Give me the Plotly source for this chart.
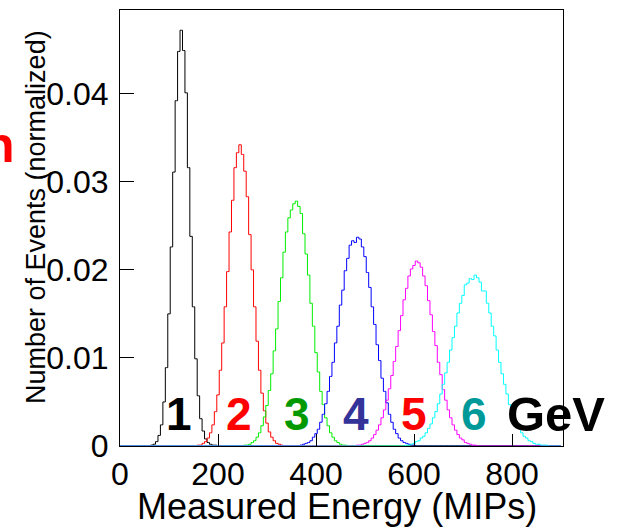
import numpy as np
import plotly.graph_objects as go

# ---------------- data ----------------
bin_width = 5
x_max = 900

e1_start = 65
e1_vals = [0.0001, 0.0002, 0.0005, 0.0012, 0.0024, 0.0050, 0.0089, 0.0150, 0.0226, 0.0311,
           0.0392, 0.0448, 0.0472, 0.0449, 0.0401, 0.0316, 0.0238, 0.0158, 0.0099, 0.0057,
           0.0031, 0.0017, 0.0008, 0.0004, 0.0002, 0.0001, 0.0001]

e2_start = 160
e2_vals = [0.0001, 0.0001, 0.0003, 0.0005, 0.0009, 0.0015, 0.0024, 0.0039, 0.0058, 0.0086,
           0.0117, 0.0158, 0.0198, 0.0243, 0.0279, 0.0316, 0.0333, 0.0342, 0.0331, 0.0312,
           0.0283, 0.0240, 0.0200, 0.0158, 0.0119, 0.0086, 0.0060, 0.0040, 0.0026, 0.0016,
           0.0010, 0.0006, 0.0003, 0.0002, 0.0001]

e3_start = 255
e3_vals = [0.0001, 0.0001, 0.0002, 0.0004, 0.0006, 0.0010, 0.0015, 0.0023, 0.0033, 0.0046,
           0.0063, 0.0082, 0.0108, 0.0133, 0.0164, 0.0191, 0.0220, 0.0243, 0.0259, 0.0268,
           0.0275, 0.0278, 0.0272, 0.0264, 0.0241, 0.0218, 0.0194, 0.0162, 0.0136, 0.0106,
           0.0084, 0.0062, 0.0047, 0.0032, 0.0023, 0.0015, 0.0010, 0.0006, 0.0004, 0.0002,
           0.0001, 0.0001]

e4_start = 370
e4_vals = [0.0001, 0.0002, 0.0003, 0.0004, 0.0006, 0.0010, 0.0014, 0.0019, 0.0027, 0.0036,
           0.0048, 0.0062, 0.0079, 0.0095, 0.0117, 0.0136, 0.0160, 0.0177, 0.0199, 0.0213,
           0.0228, 0.0233, 0.0231, 0.0237, 0.0235, 0.0226, 0.0215, 0.0197, 0.0180, 0.0158,
           0.0138, 0.0115, 0.0097, 0.0077, 0.0062, 0.0049, 0.0036, 0.0027, 0.0019, 0.0014,
           0.0009, 0.0006, 0.0004, 0.0003, 0.0002, 0.0001, 0.0001]

e5_start = 485
e5_vals = [0.0001, 0.0001, 0.0002, 0.0003, 0.0004, 0.0006, 0.0009, 0.0013, 0.0018, 0.0024,
           0.0032, 0.0041, 0.0052, 0.0065, 0.0080, 0.0096, 0.0113, 0.0131, 0.0148, 0.0166,
           0.0179, 0.0193, 0.0201, 0.0205, 0.0210, 0.0208, 0.0203, 0.0193, 0.0182, 0.0165,
           0.0149, 0.0130, 0.0114, 0.0095, 0.0081, 0.0064, 0.0052, 0.0041, 0.0032, 0.0024,
           0.0018, 0.0013, 0.0009, 0.0007, 0.0004, 0.0003, 0.0002, 0.0001, 0.0001]

e6_start = 585
e6_vals = [0.0001, 0.0001, 0.0002, 0.0003, 0.0005, 0.0006, 0.0009, 0.0011, 0.0015, 0.0020,
           0.0025, 0.0032, 0.0039, 0.0048, 0.0059, 0.0070, 0.0083, 0.0095, 0.0109, 0.0123,
           0.0136, 0.0151, 0.0162, 0.0171, 0.0183, 0.0185, 0.0190, 0.0189, 0.0194, 0.0191,
           0.0186, 0.0176, 0.0176, 0.0162, 0.0151, 0.0136, 0.0125, 0.0109, 0.0095, 0.0082,
           0.0070, 0.0059, 0.0047, 0.0039, 0.0032, 0.0025, 0.0020, 0.0015, 0.0011, 0.0009,
           0.0006, 0.0005, 0.0003, 0.0002, 0.0002, 0.0001, 0.0001, 0.0001]

energies = ["1", "2", "3", "4", "5", "6"]
line_colors = ["#000000", "#ff0000", "#00ee00", "#0000ff", "#ff00ff", "#00ffff"]
label_colors = ["#000000", "#ff0000", "#009900", "#333399", "#ff0000", "#009999"]
label_x = [120, 243, 361, 482, 600, 722]
gev_x = 890
label_y = 0.0036

y_ticks = [0, 0.01, 0.02, 0.03, 0.04]
y_tick_text = ["0", "0.01", "0.02", "0.03", "0.04"]
x_ticks = [0, 200, 400, 600, 800]
x_tick_text = ["0", "200", "400", "600", "800"]

series = [(e1_start, e1_vals), (e2_start, e2_vals), (e3_start, e3_vals),
          (e4_start, e4_vals), (e5_start, e5_vals), (e6_start, e6_vals)]

# ---------------- figure ----------------
W, H = 628, 528
ML, MR, MT, MB = 120, 65, 10, 82
PW, PH = W - ML - MR, H - MT - MB

def px_to_paper_x(px):
    return (px - ML) / PW

def px_to_paper_y(py):
    return (H - MB - py) / PH

FONT = "Liberation Sans, Arial, sans-serif"

fig = go.Figure()
bin_centers = np.arange(0, x_max + bin_width, bin_width)
for (start, vals), col in zip(series, line_colors):
    y = np.zeros(len(bin_centers))
    i0 = int(round(start / bin_width))
    y[i0:i0 + len(vals)] = vals
    fig.add_trace(go.Scatter(x=bin_centers, y=y, mode="lines",
                             line=dict(color=col, width=1, shape="hvh"),
                             showlegend=False, hoverinfo="skip"))

ann = []
for txt, col, lx in zip(energies, label_colors, label_x):
    ann.append(dict(x=lx, y=label_y, xref="x", yref="y", text="<b>%s</b>" % txt,
                    showarrow=False, xanchor="center", yanchor="middle",
                    font=dict(family=FONT, size=46, color=col)))
ann.append(dict(x=gev_x, y=label_y, xref="x", yref="y", text="<b>GeV</b>",
                showarrow=False, xanchor="center", yanchor="middle",
                font=dict(family=FONT, size=49, color="#000000")))
# axis titles
ann.append(dict(x=px_to_paper_x(337), y=px_to_paper_y(506), xref="paper", yref="paper",
                text="Measured Energy (MIPs)", showarrow=False,
                xanchor="center", yanchor="middle",
                font=dict(family=FONT, size=36, color="#000000")))
ann.append(dict(x=px_to_paper_x(36), y=px_to_paper_y(217), xref="paper", yref="paper",
                text="Number of Events (normalized)", showarrow=False, textangle=-90,
                xanchor="center", yanchor="middle",
                font=dict(family=FONT, size=27, color="#000000")))
# cropped red text fragment at the left edge
ann.append(dict(x=px_to_paper_x(17), y=px_to_paper_y(145), xref="paper", yref="paper",
                text="<b>n</b>", showarrow=False, xanchor="right", yanchor="middle",
                font=dict(family=FONT, size=50, color="#ff0000")))

fig.update_layout(
    width=W, height=H, autosize=False,
    margin=dict(l=ML, r=MR, t=MT, b=MB, pad=0),
    paper_bgcolor="white", plot_bgcolor="white",
    annotations=ann,
    xaxis=dict(range=[0, 904], tickvals=x_ticks, ticktext=x_tick_text,
               ticks="inside", ticklen=12, tickwidth=1, tickcolor="black",
               showline=True, linecolor="black", linewidth=1, mirror=True,
               showgrid=False, zeroline=False,
               tickfont=dict(family=FONT, size=32, color="black"),
               ticklabelstandoff=0),
    yaxis=dict(range=[0, 0.0495], tickvals=y_ticks, ticktext=y_tick_text,
               ticks="inside", ticklen=14, tickwidth=1, tickcolor="black",
               showline=True, linecolor="black", linewidth=1, mirror=True,
               showgrid=False, zeroline=False,
               tickfont=dict(family=FONT, size=32, color="black"),
               ticklabelstandoff=4),
)

fig.write_html("out.html")
